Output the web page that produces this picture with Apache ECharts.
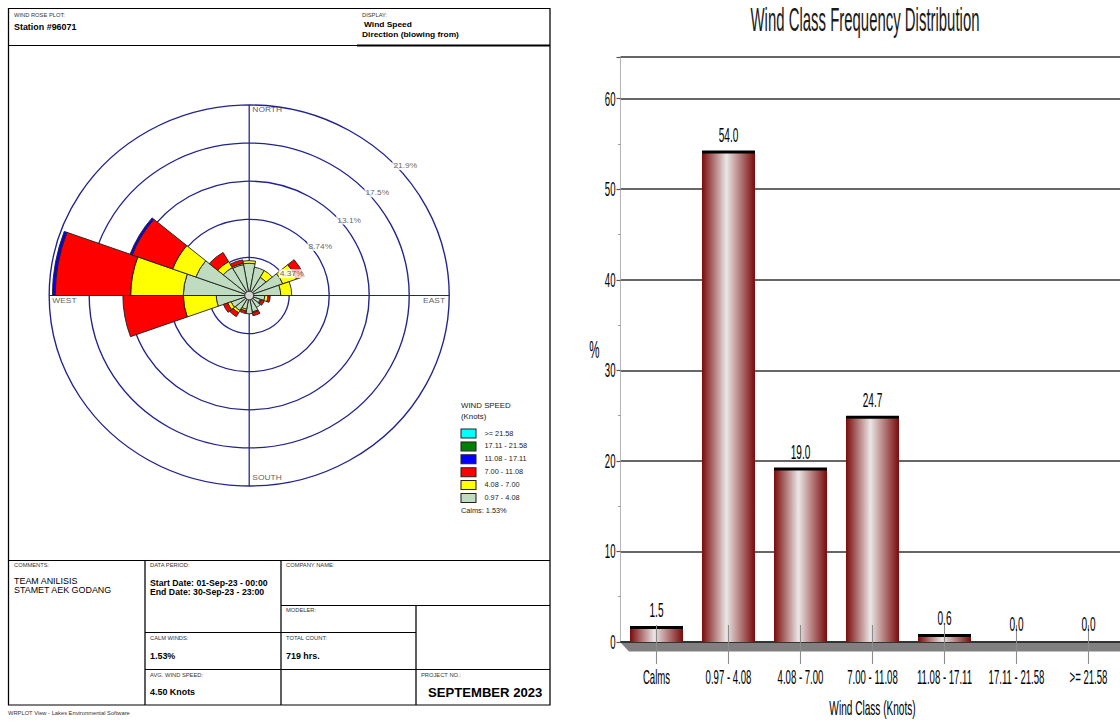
<!DOCTYPE html>
<html>
<head>
<meta charset="utf-8">
<script src="https://cdn.jsdelivr.net/npm/echarts@6/dist/echarts.min.js"></script>
<style>
html,body{margin:0;padding:0;overflow:hidden;background:#fff;width:1120px;height:724px;}
#left{position:absolute;left:0;top:0;width:534px;height:724px;transform-origin:0 0;transform:scaleX(1.05);}
#right{position:absolute;left:560px;top:0;width:1196px;height:724px;transform-origin:0 0;transform:scaleX(0.48);}
</style>
</head>
<body>
<div id="left"></div>
<div id="right"></div>
<script>
// ---------------- DATA ----------------
// Wind rose: 18 direction sectors (blowing from), degrees clockwise from north
const directionDeg = [0,20,40,60,80,100,120,140,160,180,200,220,240,260,280,300,320,340];
const speedClasses = ['0.97 - 4.08','4.08 - 7.00','7.00 - 11.08','11.08 - 17.11','17.11 - 21.58','>= 21.58'];
// percent frequency per direction, one array per speed class
const speed_097_408  = [3.7,3.3,2.4,3.9,3.45,1.7,1.3,1.6,1.9,2.1,1.6,2.0,2.1,3.6,7.2,6.2,3.7,3.6];
const speed_408_700  = [0.3,0,0.9,1.6,1.2,0.35,0.1,0,0.1,0,0.2,0.3,0.4,3.6,5.75,2.7,0.8,0.15];
const speed_700_1108 = [0,0,0,0.9,0,0.25,0.35,0,0.35,0,0.3,0.5,0.5,6.6,8.25,4.7,1.2,0.4];
const speed_1108_1711= [0,0,0,0,0,0,0,0,0,0,0,0,0,0,0.3,0.25,0,0];
const speed_1711_2158= [0,0,0,0,0,0,0,0,0,0,0,0,0,0,0,0,0,0];
const speed_ge_2158  = [0,0,0,0,0,0,0,0,0,0,0,0,0,0,0,0,0,0];
const ringStep = 4.37;
const ringLabels = ['4.37%','8.74%','13.1%','17.5%','21.9%'];
const calmPercent = 1.53;

// Bar chart
const windClasses = ['Calms','0.97 - 4.08','4.08 - 7.00','7.00 - 11.08','11.08 - 17.11','17.11 - 21.58','>= 21.58'];
const classFrequency = [1.5, 54.0, 19.0, 24.7, 0.6, 0.0, 0.0];
const yTicks = [0,10,20,30,40,50,60];

// ---------------- STYLE ----------------
const FONT = "'Liberation Sans', Arial, Helvetica, sans-serif";
const NAVY = '#23238c';
const speedColors = ['#c0dcc0','#ffff00','#ff0000','#0000ff','#008000','#00ffff'];
const speedSeries = [speed_097_408, speed_408_700, speed_700_1108, speed_1108_1711, speed_1711_2158, speed_ge_2158];

// ---------------- LEFT: WIND ROSE ----------------
const LS = 1.05;
const lx = x => x / LS;
const CX = lx(249.2), CY = 295.5, R = 190.5;
const ringMax = ringStep * ringLabels.length;

function T(text, x, y, size, opts) {
  return {type:'text', x:x, y:y, silent:true, z:10,
    style:Object.assign({text:text, fontSize:size, fontFamily:FONT, fill:'#000',
      align:'left', textAlign:'left', verticalAlign:'middle', textVerticalAlign:'middle'}, opts||{})};
}
function Ln(x1,y1,x2,y2,w){
  return {type:'line', silent:true, z:10, shape:{x1:x1,y1:y1,x2:x2,y2:y2}, style:{stroke:'#000', lineWidth:w||1.2}};
}
const small = {fill:'#333'};
const bold = {fontWeight:'bold'};

const frame = [
  {type:'rect', silent:true, z:10, shape:{x:lx(8.5), y:8.5, width:lx(550)-lx(8.5), height:705-8.5}, style:{fill:'none', stroke:'#000', lineWidth:1.2}},
  Ln(lx(8.5),45.5,lx(550),45.5,1.2),
  Ln(lx(357),45.5,lx(550),45.5,2.2),
  Ln(lx(8.5),560.5,lx(550),560.5,1.2),
  Ln(lx(145),560.5,lx(145),705,1.2),
  Ln(lx(281),560.5,lx(281),705,1.2),
  Ln(lx(281),605.5,lx(550),605.5,1.2),
  Ln(lx(145),632.5,lx(416),632.5,1.2),
  Ln(lx(416),605.5,lx(416),705,1.2),
  Ln(lx(145),669.5,lx(550),669.5,1.2),
  T('WIND ROSE PLOT:', lx(14), 15, 5.5, small),
  T('Station #96071', lx(14), 27, 8.5, bold),
  T('DISPLAY:', lx(362), 15, 5.5, small),
  T('Wind Speed', lx(364), 25, 8, bold),
  T('Direction (blowing from)', lx(362), 35, 8, bold),
  T('COMMENTS:', lx(14), 565.5, 5.5, small),
  T('TEAM ANILISIS', lx(14), 581, 8.5),
  T('STAMET AEK GODANG', lx(14), 590.5, 8.5),
  T('DATA PERIOD:', lx(150), 565.5, 5.5, small),
  T('Start Date: 01-Sep-23 - 00:00', lx(150), 583, 8.3, bold),
  T('End Date: 30-Sep-23 - 23:00', lx(150), 592, 8.3, bold),
  T('COMPANY NAME:', lx(286), 565.5, 5.5, small),
  T('MODELER:', lx(286), 610.5, 5.5, small),
  T('CALM WINDS:', lx(150), 638, 5.5, small),
  T(calmPercent.toFixed(2) + '%', lx(150), 656.5, 8.5, bold),
  T('TOTAL COUNT:', lx(286), 638, 5.5, small),
  T('719 hrs.', lx(286), 656.5, 8.5, bold),
  T('AVG. WIND SPEED:', lx(150), 675, 5.5, small),
  T('4.50 Knots', lx(150), 692, 8.5, bold),
  T('PROJECT NO.:', lx(421), 675, 5.5, small),
  T('SEPTEMBER 2023', lx(428), 692.5, 12.5, bold),
  T('WRPLOT View - Lakes Environmental Software', lx(8), 713, 5.5, small)
];

// legend (top: highest class)
const legend = [
  T('WIND SPEED', lx(461), 406, 7.5, {fill:'#222'}),
  T('(Knots)', lx(461), 416.5, 7.5, {fill:'#222'})
];
for (let k = 0; k < speedClasses.length; k++) {
  const ci = speedClasses.length - 1 - k;
  const y = 429 + k * 12.9;
  legend.push({type:'rect', silent:true, z:10, shape:{x:lx(461), y:y, width:lx(476)-lx(461), height:9},
    style:{fill:speedColors[ci], stroke:'#222', lineWidth:1}});
  legend.push(T(speedClasses[ci], lx(484.5), y + 4.6, 7, {fill:'#222'}));
}
legend.push(T('Calms: ' + calmPercent.toFixed(2) + '%', lx(461), 511, 7, {fill:'#222'}));

const roseSeries = speedSeries.map((arr, i) => ({
  name: speedClasses[i], type:'bar', coordinateSystem:'polar', polarIndex:0, stack:'rose',
  barCategoryGap:'0%', silent:true, z:2,
  data: arr.map(v => (v > 0 ? v : '-')),
  itemStyle:{color:speedColors[i], borderColor:'#222', borderWidth:0.9}
}));

const ringLabelAngles = [55, 50, 48.7, 47.7, 47];
const ringLabelSeries = {
  type:'scatter', coordinateSystem:'polar', polarIndex:1, symbolSize:0, silent:true, z:6,
  data: ringLabels.map((t, i) => ({value:[ringStep * (i + 1), ringLabelAngles[i]], name:t})),
  label:{show:true, formatter:p => p.name, position:[-3,0], align:'left', verticalAlign:'middle',
    fontSize:8, fontFamily:FONT, color:'#3a3a3a', backgroundColor:'#fff', padding:[1,1,0,1]}
};
const compass = [
  {name:'NORTH', angle:0,   pos:[3,1],  align:'left',  va:'top'},
  {name:'EAST',  angle:90,  pos:[-4,1], align:'right', va:'top'},
  {name:'SOUTH', angle:180, pos:[3,-4], align:'left',  va:'bottom'},
  {name:'WEST',  angle:270, pos:[3,1],  align:'left',  va:'top'}
];
const compassSeries = {
  type:'scatter', coordinateSystem:'polar', polarIndex:1, symbolSize:0, silent:true, z:6,
  data: compass.map(c => ({value:[ringMax, c.angle], name:c.name,
    label:{show:true, formatter:c.name, position:c.pos, align:c.align, verticalAlign:c.va,
      fontSize:8, fontFamily:FONT, color:'#333'}}))
};
const calmSeries = {
  type:'scatter', coordinateSystem:'polar', polarIndex:1, silent:true, z:7,
  symbol:'circle', symbolSize:8.5, data:[[0,0]],
  itemStyle:{color:'#fff', borderColor:'#222', borderWidth:1}
};

const leftOption = {
  animation:false,
  polar:[{center:[CX,CY], radius:R},{center:[CX,CY], radius:R}],
  angleAxis:[
    {polarIndex:0, type:'category', data:directionDeg.map(String), startAngle:90 + 180 / directionDeg.length,
      clockwise:true, boundaryGap:true, axisLine:{show:false}, axisTick:{show:false}, axisLabel:{show:false}, splitLine:{show:false}},
    {polarIndex:1, type:'value', min:0, max:360, interval:90, startAngle:90, clockwise:true,
      axisLine:{show:false}, axisTick:{show:false}, axisLabel:{show:false},
      splitLine:{show:true, lineStyle:{color:NAVY, width:1.2}}}
  ],
  radiusAxis:[
    {polarIndex:0, type:'value', min:0, max:ringMax, interval:ringStep,
      axisLine:{show:false}, axisTick:{show:false}, axisLabel:{show:false},
      splitLine:{show:true, lineStyle:{color:NAVY, width:1.3}}},
    {polarIndex:1, type:'value', min:0, max:ringMax,
      axisLine:{show:false}, axisTick:{show:false}, axisLabel:{show:false}, splitLine:{show:false}}
  ],
  series: roseSeries.concat([ringLabelSeries, compassSeries, calmSeries]),
  graphic: frame.concat(legend)
};

// ---------------- RIGHT: BAR CHART ----------------
const S = 0.48;
const rx = x => (x - 560) / S;
const barGrad = new echarts.graphic.LinearGradient(0,0,1,0,[
  {offset:0, color:'#7a0a0a'},
  {offset:0.46, color:'#ebe6e6'},
  {offset:1, color:'#7a0a0a'}
]);
function renderBar(params, api) {
  const idx = api.value(0), v = api.value(1);
  const top = api.coord([idx, v]), base = api.coord([idx, 0]);
  const bw = api.size([1, 0])[0] * 0.736;
  const x0 = top[0] - bw / 2;
  const h = base[1] - top[1];
  const ch = [];
  if (h > 0.5) {
    ch.push({type:'rect', shape:{x:x0, y:top[1], width:bw, height:h}, style:{fill:barGrad}});
    ch.push({type:'rect', shape:{x:x0, y:top[1] - 2.5, width:bw, height:3}, style:{fill:'#000'}});
  }
  ch.push({type:'line', shape:{x1:top[0], y1:base[1] - 17, x2:top[0], y2:base[1] + 22},
    style:{stroke:'#8c8c8c', lineWidth:1.1 / S}});
  ch.push({type:'text', style:{text:v.toFixed(1), x:top[0], y:Math.min(top[1] - 8.5, base[1] - 7),
    align:'center', textAlign:'center', verticalAlign:'bottom', textVerticalAlign:'bottom',
    fontSize:21, fontFamily:FONT, fill:'#000'}});
  return {type:'group', children:ch};
}
const yStep = yTicks[1] - yTicks[0];
const rightOption = {
  animation:false,
  grid:{left:rx(620.5), top:57, width:504 / S, height:585},
  xAxis:[{type:'category', data:windClasses, boundaryGap:true,
    axisLine:{show:true, lineStyle:{color:'#222', width:1.6}}, axisTick:{show:false},
    axisLabel:{interval:0, fontSize:20, color:'#000', margin:25, fontFamily:FONT},
    splitLine:{show:false},
    name:'Wind Class (Knots)', nameLocation:'middle', nameGap:55,
    nameTextStyle:{fontSize:21, color:'#000', fontFamily:FONT}}],
  yAxis:[{type:'value', min:yTicks[0], max:64.6, interval:yStep,
    axisLine:{show:true, lineStyle:{color:'#b5b5b5', width:1 / S}},
    axisTick:{show:true, length:4 / S, lineStyle:{color:'#555', width:1.2}},
    minorTick:{show:true, splitNumber:2, length:2.5 / S, lineStyle:{color:'#777', width:1}},
    axisLabel:{fontSize:20, color:'#000', margin:5 / S, fontFamily:FONT,
      formatter:v => (yTicks.indexOf(Math.round(v * 100) / 100) >= 0 ? String(v) : '')},
    splitLine:{show:true, lineStyle:{color:'#333', width:1.6}},
    name:'%', nameLocation:'middle', nameGap:44, nameRotate:0,
    nameTextStyle:{fontSize:24, color:'#000', fontFamily:FONT}}],
  series:[{type:'custom', renderItem:renderBar, z:3, silent:true,
    data:classFrequency.map((v, i) => [i, v])}],
  graphic:[
    {type:'polygon', silent:true, z:1,
      shape:{points:[[rx(621),643],[rx(1130),643],[rx(1130),651.5],[rx(629),651.5]]},
      style:{fill:'#808080'}},
    {type:'text', silent:true, z:5, x:rx(865), y:2, scaleX:0.915,
      style:{text:'Wind Class Frequency Distribution', fontSize:34, fontFamily:FONT, fill:'#1a1a1a',
        align:'center', textAlign:'center', verticalAlign:'top', textVerticalAlign:'top'}}
  ]
};

const leftChart = echarts.init(document.getElementById('left'), null, {renderer:'svg'});
leftChart.setOption(leftOption);
const rightChart = echarts.init(document.getElementById('right'), null, {renderer:'svg'});
rightChart.setOption(rightOption);
</script>
</body>
</html>
